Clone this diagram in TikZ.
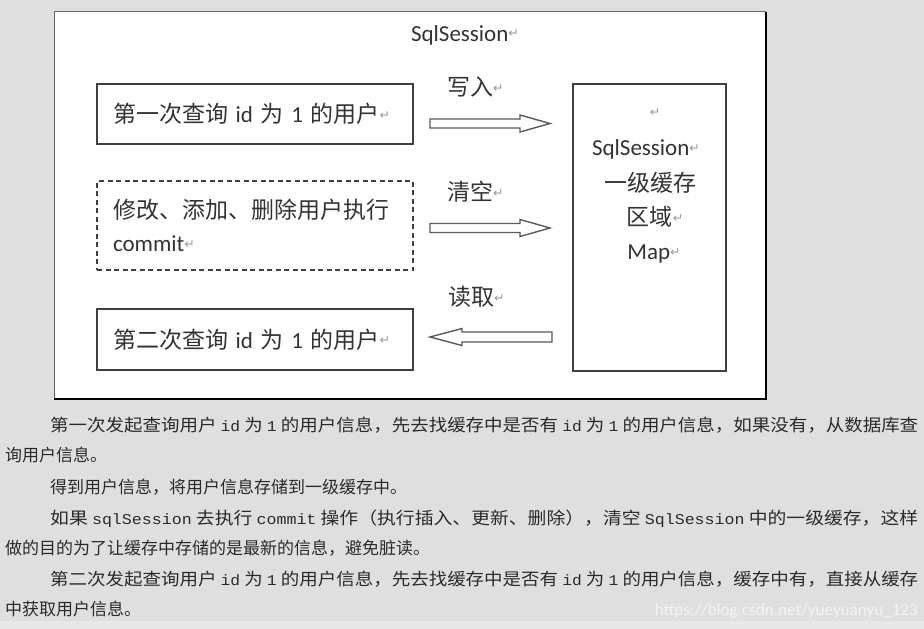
\documentclass[tikz,border=0pt]{standalone}
\usepackage{fontspec}
\usepackage{graphicx}
\setmainfont{Noto Sans CJK SC}
\newfontfamily\latf{Carlito}
\newfontfamily\monof{Liberation Mono}
\newfontfamily\symf{DejaVu Sans}
\definecolor{bgc}{HTML}{DFDFDF}
\definecolor{bgl}{HTML}{E8E8E8}
\definecolor{txt}{HTML}{333333}
\definecolor{ptxt}{HTML}{2A2A2A}
\definecolor{retc}{HTML}{9A9A9A}
\definecolor{boxc}{HTML}{3F3F3F}
\definecolor{arrc}{HTML}{5A5A5A}
\definecolor{wm}{HTML}{F4F4F4}
\newcommand{\lat}[1]{{\latf #1}}
\newcommand{\mon}[1]{{\monof\fontsize{15}{17}\selectfont #1}}
\newcommand{\ret}{\raisebox{3.5pt}{\symf\fontsize{12.5}{12.5}\selectfont\color{retc}↵}}
\newcommand{\jline}[1]{\resizebox{868pt}{\height}{#1}}
\usetikzlibrary{positioning}
\begin{document}
\begin{tikzpicture}[x=1pt,y=-1pt,
  dg/.style={font=\fontsize{23}{33}\selectfont, text=txt},
  boxnode/.style={draw=boxc, line width=1.3pt, fill=white, inner xsep=16pt, inner ysep=0pt,
     text width=284pt, align=left, dg},
  dashbox/.style={boxnode, dash pattern=on 5pt off 3.5pt},
  blockarrow/.style={draw=arrc, line width=1.4pt, fill=white, line join=miter},
  lbl/.style={dg, anchor=base west, inner sep=0pt},
  ctr/.style={dg, anchor=base, inner sep=0pt},
  para/.style={font=\fontsize{17}{20}\selectfont, text=ptxt, anchor=base west, inner sep=0pt}
]
\useasboundingbox (0,0) rectangle (924,629);
\fill[bgc] (0,0) rectangle (924,629);
\fill[bgl] (0,621) rectangle (924,629);

% outer frame
\node[draw=gray!80!black, line width=1pt, fill=white, minimum width=711pt, minimum height=387pt,
      inner sep=0pt, anchor=north west] (frame) at (54,11) {};
\draw[black, line width=2pt] ([yshift=-1pt]frame.north east) -- (frame.south east) -- (frame.south west);

\node[ctr] (title) at (465,41.5) {\lat{SqlSession}\ret};

% left boxes
\node[boxnode, minimum height=60pt] (q1) at (255,114) {第一次查询 \lat{id} 为 \lat{1} 的用户\ret};
\node[dashbox, minimum height=89pt] (upd) at (255,225.5) {修改、添加、删除用户执行\\\lat{commit}\ret};
\node[boxnode, minimum height=61pt] (q2) at (255,339.5) {第二次查询 \lat{id} 为 \lat{1} 的用户\ret};

% cache box
\node[draw=boxc, line width=1.3pt, fill=white, minimum width=153pt, minimum height=287pt, inner sep=0pt]
   (cache) at (649.5,227.5) {};
\node[ctr] (c0) at (655,120) {\ret};
\node[ctr] (c1) at (646,155.5) {\lat{SqlSession}\ret};
\node[ctr] (c2) at (650,191.5) {一级缓存};
\node[ctr] (c3) at (655,225.5) {区域\ret};
\node[ctr] (c4) at (654,259.5) {\lat{Map}\ret};

% labels
\node[lbl] (l1) at (447,95.5) {写入\ret};
\node[lbl] (l2) at (447,200.5) {清空\ret};
\node[lbl] (l3) at (448,305.5) {读取\ret};

% arrows
\coordinate (a1s) at (430,123.5);
\coordinate (a1e) at (550,123.5);
\coordinate (a2s) at (430,228);
\coordinate (a2e) at (550,228);
\coordinate (a3s) at (552,337);
\coordinate (a3e) at (430,337);
\draw[blockarrow] (a1s) ++(0,-4.5) -- ++(90,0) -- ++(0,-4) -- (a1e) -- ++(-30,8.5) -- ++(0,-4) -- ++(-90,0) -- cycle;
\draw[blockarrow] (a2s) ++(0,-4.5) -- ++(90,0) -- ++(0,-4) -- (a2e) -- ++(-30,8.5) -- ++(0,-4) -- ++(-90,0) -- cycle;
\draw[blockarrow] (a3s) ++(0,-5) -- ++(-90,0) -- ++(0,-3.5) -- (a3e) -- ++(32,8.5) -- ++(0,-3.5) -- ++(90,0) -- cycle;

% paragraph text
\node[para] (p1) at (50,431.5) {\jline{第一次发起查询用户 \mon{id} 为 \mon{1} 的用户信息，先去找缓存中是否有 \mon{id} 为 \mon{1} 的用户信息，如果没有，从数据库查}};
\node[para] (p2) at (5,461.5) {询用户信息。};
\node[para] (p3) at (50,493.5) {得到用户信息，将用户信息存储到一级缓存中。};
\node[para] (p4) at (50,524.5) {\jline{如果 \mon{sqlSession} 去执行 \mon{commit} 操作（执行插入、更新、删除），清空 \mon{SqlSession} 中的一级缓存，这样}};
\node[para] (p5) at (5,554.5) {做的目的为了让缓存中存储的是最新的信息，避免脏读。};
\node[para] (p6) at (50,585.5) {\jline{第二次发起查询用户 \mon{id} 为 \mon{1} 的用户信息，先去找缓存中是否有 \mon{id} 为 \mon{1} 的用户信息，缓存中有，直接从缓存}};
\node[para] (p7) at (5,615.5) {中获取用户信息。};
\node[anchor=base east, inner sep=0pt, text=wm] (wmk) at (918,615.5)
   {\resizebox{263pt}{\height}{\latf\fontsize{17}{20}\selectfont https://blog.csdn.net/yueyuanyu\_123}};
\end{tikzpicture}
\end{document}
